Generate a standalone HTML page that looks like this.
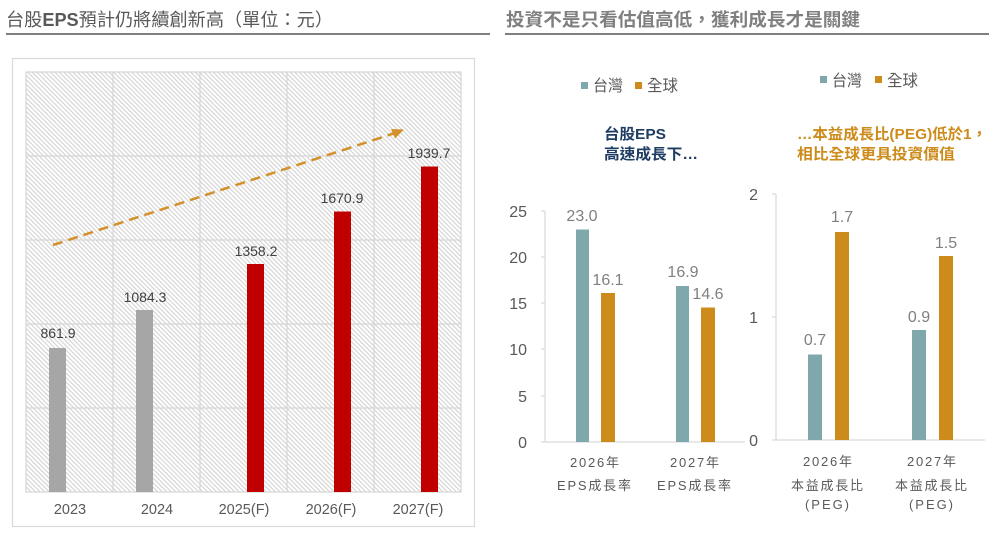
<!DOCTYPE html>
<html><head><meta charset="utf-8">
<style>
html,body{margin:0;padding:0;background:#fff;}
svg{display:block;font-family:"Liberation Sans","Noto Sans CJK TC",sans-serif;}
</style></head>
<body>
<svg width="997" height="537" viewBox="0 0 997 537" xmlns="http://www.w3.org/2000/svg">
<defs>
<pattern id="hatch" width="3.2" height="3.2" patternUnits="userSpaceOnUse" patternTransform="rotate(-45)">
<rect x="0" y="0" width="3.2" height="3.2" fill="#ffffff"/>
<rect x="0" y="0" width="1.1" height="3.2" fill="#d2d2d2"/>
</pattern>
</defs>
<rect width="997" height="537" fill="#fff"/>

<!-- Left title -->
<text x="6" y="26" font-size="18" fill="#595959" textLength="327" lengthAdjust="spacingAndGlyphs">台股<tspan font-weight="bold">EPS</tspan>預計仍將續創新高（單位：元）</text>
<rect x="6" y="33" width="484" height="2" fill="#7f7f7f"/>

<!-- Right title -->
<text x="506" y="26" font-size="18" font-weight="bold" fill="#7f7f7f" textLength="354" lengthAdjust="spacingAndGlyphs">投資不是只看估值高低，獲利成長才是關鍵</text>
<rect x="505" y="33" width="484" height="2" fill="#7f7f7f"/>

<!-- Left chart box -->
<rect x="12.5" y="58.5" width="462" height="468" fill="#fff" stroke="#d9d9d9" stroke-width="1.2"/>
<rect x="26" y="72" width="435" height="420" fill="url(#hatch)"/>
<g stroke="#d6d6d6" stroke-width="1.2" fill="none">
<rect x="26" y="72" width="435" height="420"/>
<line x1="26" y1="156" x2="461" y2="156"/>
<line x1="26" y1="240" x2="461" y2="240"/>
<line x1="26" y1="324" x2="461" y2="324"/>
<line x1="26" y1="408" x2="461" y2="408"/>
<line x1="113" y1="72" x2="113" y2="492"/>
<line x1="200" y1="72" x2="200" y2="492"/>
<line x1="287" y1="72" x2="287" y2="492"/>
<line x1="374" y1="72" x2="374" y2="492"/>
</g>
<!-- bars -->
<rect x="49" y="348" width="17" height="144" fill="#a6a6a6"/>
<rect x="136" y="310" width="17" height="182" fill="#a6a6a6"/>
<rect x="247" y="264" width="17" height="228" fill="#c00000"/>
<rect x="334" y="211.5" width="17" height="280.5" fill="#c00000"/>
<rect x="421" y="166.5" width="17" height="325.5" fill="#c00000"/>
<g font-size="14" fill="#404040" text-anchor="middle">
<text x="58" y="338">861.9</text>
<text x="145" y="302">1084.3</text>
<text x="256" y="256">1358.2</text>
<text x="342" y="203">1670.9</text>
<text x="429" y="158">1939.7</text>
</g>
<g font-size="14.5" fill="#595959" text-anchor="middle">
<text x="70" y="514">2023</text>
<text x="157" y="514">2024</text>
<text x="244" y="514">2025(F)</text>
<text x="331" y="514">2026(F)</text>
<text x="418" y="514">2027(F)</text>
</g>
<!-- arrow -->
<line x1="53" y1="245" x2="395" y2="133" stroke="#d4902a" stroke-width="2.5" stroke-dasharray="10,6"/>
<polygon points="404,129.5 391,129 395,138.5" fill="#d4902a"/>

<!-- Middle chart -->
<rect x="581" y="82" width="7" height="7" fill="#7fa8ac"/>
<text x="593" y="91" font-size="16" fill="#595959" textLength="30" lengthAdjust="spacingAndGlyphs">台灣</text>
<rect x="635" y="82" width="7" height="7" fill="#cc8b1a"/>
<text x="647" y="91" font-size="16" fill="#595959" textLength="31" lengthAdjust="spacingAndGlyphs">全球</text>

<text x="604" y="139" font-size="15" font-weight="bold" fill="#1f3d63" textLength="62" lengthAdjust="spacingAndGlyphs">台股EPS</text>
<text x="604" y="159" font-size="15" font-weight="bold" fill="#1f3d63" textLength="94" lengthAdjust="spacingAndGlyphs">高速成長下…</text>

<g stroke="#d9d9d9" stroke-width="1.2">
<line x1="545" y1="211" x2="545" y2="442"/>
<line x1="541" y1="442" x2="745" y2="442"/>
<line x1="541" y1="211" x2="545" y2="211"/>
<line x1="541" y1="257" x2="545" y2="257"/>
<line x1="541" y1="303" x2="545" y2="303"/>
<line x1="541" y1="349" x2="545" y2="349"/>
<line x1="541" y1="396" x2="545" y2="396"/>
</g>
<g font-size="16" fill="#595959" text-anchor="end">
<text x="527" y="217">25</text>
<text x="527" y="263">20</text>
<text x="527" y="309">15</text>
<text x="527" y="355">10</text>
<text x="527" y="402">5</text>
<text x="527" y="448">0</text>
</g>
<rect x="576" y="229.5" width="13" height="212.5" fill="#7fa8ac"/>
<rect x="601" y="293" width="14" height="149" fill="#cc8b1a"/>
<rect x="676" y="286" width="13" height="156" fill="#7fa8ac"/>
<rect x="701" y="307.5" width="14" height="134.5" fill="#cc8b1a"/>
<g font-size="16" fill="#808080" text-anchor="middle">
<text x="582" y="221">23.0</text>
<text x="608" y="285">16.1</text>
<text x="683" y="277">16.9</text>
<text x="708" y="299">14.6</text>
</g>
<g font-size="13" fill="#595959">
<text x="570" y="467" textLength="49" lengthAdjust="spacing">2026年</text>
<text x="557" y="490" textLength="74" lengthAdjust="spacing">EPS成長率</text>
<text x="670" y="467" textLength="49" lengthAdjust="spacing">2027年</text>
<text x="657" y="490" textLength="74" lengthAdjust="spacing">EPS成長率</text>
</g>

<!-- Right chart -->
<rect x="820" y="76" width="7" height="7" fill="#7fa8ac"/>
<text x="832" y="86" font-size="16" fill="#595959" textLength="30" lengthAdjust="spacingAndGlyphs">台灣</text>
<rect x="875" y="76" width="7" height="7" fill="#cc8b1a"/>
<text x="887" y="86" font-size="16" fill="#595959" textLength="31" lengthAdjust="spacingAndGlyphs">全球</text>

<text x="797" y="139" font-size="15" font-weight="bold" fill="#cc8b1a" textLength="190" lengthAdjust="spacingAndGlyphs">…本益成長比(PEG)低於1，</text>
<text x="797" y="159" font-size="15" font-weight="bold" fill="#cc8b1a" textLength="158" lengthAdjust="spacingAndGlyphs">相比全球更具投資價值</text>

<g stroke="#d9d9d9" stroke-width="1.2">
<line x1="776" y1="194" x2="776" y2="440"/>
<line x1="772" y1="440" x2="985" y2="440"/>
<line x1="772" y1="194" x2="776" y2="194"/>
<line x1="772" y1="317" x2="776" y2="317"/>
</g>
<g font-size="16" fill="#595959" text-anchor="end">
<text x="758" y="200">2</text>
<text x="758" y="323">1</text>
<text x="758" y="446">0</text>
</g>
<rect x="808" y="354.5" width="14" height="85.5" fill="#7fa8ac"/>
<rect x="835" y="232" width="14" height="208" fill="#cc8b1a"/>
<rect x="912" y="330" width="14" height="110" fill="#7fa8ac"/>
<rect x="939" y="256" width="14" height="184" fill="#cc8b1a"/>
<g font-size="16" fill="#808080" text-anchor="middle">
<text x="815" y="345">0.7</text>
<text x="842" y="222">1.7</text>
<text x="919" y="322">0.9</text>
<text x="946" y="248">1.5</text>
</g>
<g font-size="13" fill="#595959">
<text x="803" y="466" textLength="49" lengthAdjust="spacing">2026年</text>
<text x="791" y="490" textLength="72" lengthAdjust="spacing">本益成長比</text>
<text x="805" y="509" textLength="44" lengthAdjust="spacing">(PEG)</text>
<text x="907" y="466" textLength="49" lengthAdjust="spacing">2027年</text>
<text x="895" y="490" textLength="72" lengthAdjust="spacing">本益成長比</text>
<text x="909" y="509" textLength="44" lengthAdjust="spacing">(PEG)</text>
</g>
</svg>
</body></html>
